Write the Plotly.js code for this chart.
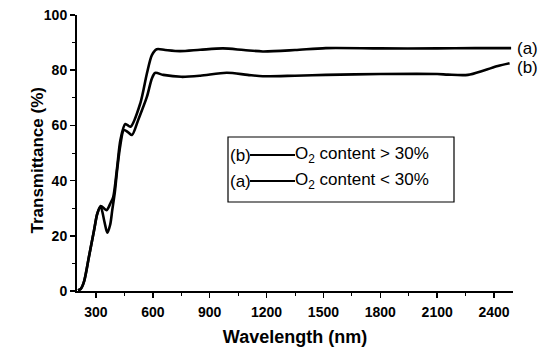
<!DOCTYPE html>
<html>
<head>
<meta charset="utf-8">
<script src="https://cdn.plot.ly/plotly-3.0.1.min.js"></script>
<style>html,body{margin:0;padding:0;background:#fff;}#chart{width:551px;height:353px;}</style>
</head>
<body>
<div id="chart"></div>
<script>
// Curve (a): O2 content < 30%
var wavelengthA = [205, 220, 237, 263, 290, 307, 325, 356, 377, 391, 412, 429, 455, 482, 534, 569, 595, 621, 665, 743, 850, 970, 1080, 1180, 1350, 1513, 1800, 2100, 2300, 2490];
var transA      = [0.3, 0.8, 3.4, 12.4, 22, 28, 30.8, 29.3, 31.9, 34, 45, 54.7, 60.5, 59.5, 68, 78.9, 85.5, 87.6, 87.3, 86.9, 87.4, 87.9, 87.3, 86.8, 87.3, 88.0, 87.9, 87.9, 88, 88];
// Curve (b): O2 content > 30%
var wavelengthB = [205, 220, 237, 263, 290, 307, 325, 345, 360, 375, 386, 400, 412, 429, 447, 470, 490, 523, 569, 595, 612, 655, 750, 850, 990, 1100, 1180, 1350, 1513, 1800, 2100, 2157, 2262, 2350, 2420, 2482];
var transB      = [0.3, 0.8, 3.4, 12.4, 22, 28, 30.5, 25, 21.1, 24, 29.3, 36, 44, 53, 58.3, 57.5, 56.5, 62, 70.4, 77, 79, 78.3, 77.6, 78, 79.1, 78.3, 77.8, 78, 78.3, 78.6, 78.6, 78.4, 78.3, 80, 81.5, 82.5];
var xTicks = [300, 600, 900, 1200, 1500, 1800, 2100, 2400];
var yTicks = [0, 20, 40, 60, 80, 100];
var legendLabels = ["(b)", "(a)"];
var legendTexts = ["O<sub>2</sub> content &gt; 30%", "O<sub>2</sub> content &lt; 30%"];
var endLabels = ["(a)", "(b)"];

var lineStyle = {color: '#000', width: 2.6, shape: 'spline', smoothing: 0.8};
var traces = [
  {x: wavelengthA, y: transA, mode: 'lines', line: lineStyle, showlegend: false, hoverinfo: 'skip'},
  {x: wavelengthB, y: transB, mode: 'lines', line: lineStyle, showlegend: false, hoverinfo: 'skip'}
];

var FAM = 'Liberation Sans, Arial, sans-serif';
var boldFont = {family: FAM, size: 14, color: '#000', weight: 'bold'};
var textFont = {family: FAM, size: 17, color: '#000'};

// plot area in pixels: x 77..513, y 15..291
var W = 436, H = 276;
function px2x(p){ return (p - 77) / W; }
function py2y(p){ return (291 - p) / H; }

var annotations = [
  {xref: 'paper', yref: 'paper', x: px2x(25), y: py2y(161), text: 'Transmittance (%)', textangle: -90,
   showarrow: false, font: {family: FAM, size: 17, color: '#000', weight: 'bold'}},
  {xref: 'paper', yref: 'y', x: 1.005, y: transA[transA.length - 1], xanchor: 'left', text: endLabels[0], showarrow: false, font: textFont},
  {xref: 'paper', yref: 'y', x: 1.005, y: transB[transB.length - 1] - 1.5, xanchor: 'left', text: endLabels[1], showarrow: false, font: textFont}
];
var shapes = [
  {type: 'rect', xref: 'paper', yref: 'paper', x0: px2x(228), x1: px2x(454), y0: py2y(202), y1: py2y(137),
   line: {color: '#000', width: 1.2}, fillcolor: 'rgba(0,0,0,0)'}
];
var rowsY = [155, 181];
for (var i = 0; i < 2; i++) {
  annotations.push({xref: 'paper', yref: 'paper', x: px2x(228), y: py2y(rowsY[i]), xanchor: 'left', text: legendLabels[i], showarrow: false, font: textFont});
  annotations.push({xref: 'paper', yref: 'paper', x: px2x(293), y: py2y(rowsY[i]), xanchor: 'left', text: legendTexts[i], showarrow: false, font: textFont});
  shapes.push({type: 'line', xref: 'paper', yref: 'paper', x0: px2x(250), x1: px2x(295), y0: py2y(rowsY[i]), y1: py2y(rowsY[i]), line: {color: '#000', width: 2}});
}

var layout = {
  width: 551, height: 353,
  margin: {l: 77, r: 38, t: 15, b: 62},
  paper_bgcolor: '#fff', plot_bgcolor: '#fff',
  showlegend: false,
  xaxis: {
    range: [200, 2500], tickvals: xTicks, ticks: 'outside', ticklen: 5, tickwidth: 1.5, tickcolor: '#000',
    showline: true, linecolor: '#000', linewidth: 2, showgrid: false, zeroline: false,
    tickfont: boldFont, ticklabelstandoff: 2,
    minor: {dtick: 150, tick0: 150, ticks: 'outside', ticklen: 3, tickwidth: 1, tickcolor: '#000', showgrid: false},
    title: {text: 'Wavelength (nm)', standoff: 12, font: {family: FAM, size: 18, color: '#000', weight: 'bold'}}
  },
  yaxis: {
    range: [0, 100], tickvals: yTicks, ticks: 'outside', ticklen: 5, tickwidth: 1.5, tickcolor: '#000',
    showline: true, linecolor: '#000', linewidth: 2, showgrid: false, zeroline: false,
    tickfont: boldFont,
    minor: {dtick: 10, ticks: 'outside', ticklen: 3, tickwidth: 1, tickcolor: '#000', showgrid: false}
  },
  annotations: annotations,
  shapes: shapes
};
Plotly.newPlot('chart', traces, layout, {staticPlot: true});
</script>
</body>
</html>
